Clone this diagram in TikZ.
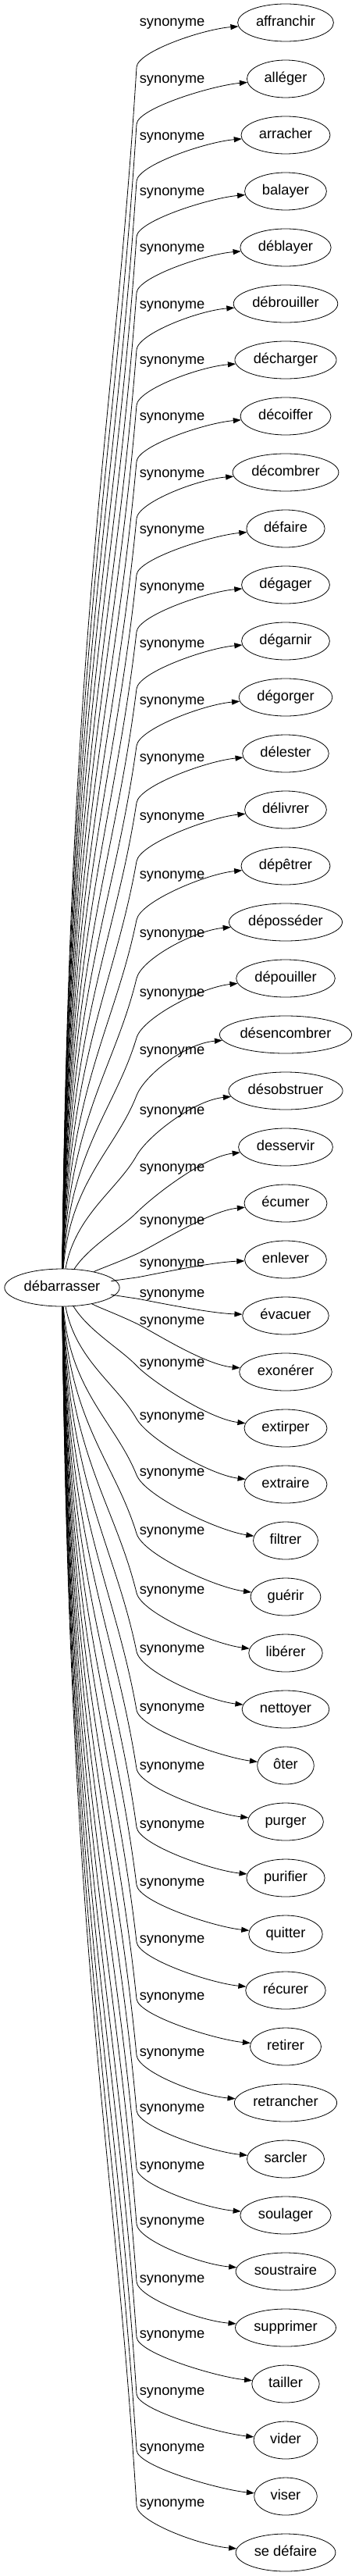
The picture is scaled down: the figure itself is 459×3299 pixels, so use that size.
\documentclass[tikz,border=0pt]{standalone}
\usepackage{fontspec}
\setmainfont{Liberation Sans}
\usetikzlibrary{arrows.meta,calc,shapes.geometric}
\tikzset{
  wordnode/.style={draw, ellipse, line width=0.8pt, inner sep=0pt, minimum height=48pt,
    text height=13.5pt, text depth=3.9pt},
  synlabel/.style={inner sep=0pt, text height=13.5pt, text depth=3.9pt},
  synedge/.style={-{Triangle[length=10pt,width=7pt]}, line width=0.8pt},
}
\begin{document}
\fontsize{18.3}{22}\selectfont
\begin{tikzpicture}[x=1pt, y=-1pt]
  \useasboundingbox (0,0) rectangle (459,3299);
  % --- root word ---
  \pgfmathsetmacro\rootw{1.13*width("débarrasser")+37}
  \node[wordnode, minimum width=\rootw pt] (root) at (79.5,1649) {débarrasser};
  % --- synonyms: word / label y / knee y ---
  \foreach \word/\ly/\ky [count=\idx from 0] in {
      affranchir/29/86, alléger/102/159, arracher/175/232, balayer/246/303,
      déblayer/318/375, débrouiller/391/448, décharger/462/519,
      décoiffer/534/591, décombrer/607/664, défaire/679/736,
      dégager/752/809, dégarnir/825/882, dégorger/898/955,
      délester/971/1028, délivrer/1046/1103, dépêtrer/1121/1178,
      déposséder/1196/1253, dépouiller/1272/1329,
      désencombrer/1346/1403, désobstruer/1423/1480,
      desservir/1496/1553, écumer/1564/1606, enlever/1618/1636,
      évacuer/1657/1663, exonérer/1692/1695, extirper/1746/1749,
      extraire/1814/1817, filtrer/1886/1889, guérir/1961/1964,
      libérer/2037/2040, nettoyer/2112/2115, ôter/2187/2190,
      purger/2262/2265, purifier/2337/2340, quitter/2411/2414,
      récurer/2484/2487, retirer/2557/2560, retrancher/2629/2632,
      sarcler/2700/2703, soulager/2774/2777, soustraire/2845/2848,
      supprimer/2919/2922, tailler/2990/2993, vider/3063/3066,
      viser/3135/3138, se défaire/3206/3209}{
    \pgfmathsetmacro\wordw{1.13*width("\word")+37}
    \pgfmathsetmacro\wy{29+72*\idx}
    \node[wordnode, minimum width=\wordw pt] (w\idx) at (366,\wy) {\word};
    \node[synlabel] (s\idx) at (220.5,\ly) {synonyme};
    % knee of the edge and its tangent
    \pgfmathsetmacro\kdy{\ky-1649}
    \pgfmathsetmacro\kang{atan2(\kdy,96)}
    \pgfmathsetmacro\kf{max(0.1,0.6-abs(\kdy)/400)}
    \pgfmathsetmacro\kla{0.3*max(96,abs(\kdy))}
    \pgfmathsetmacro\klb{0.35*abs(\ky-\wy)}
    \pgfmathsetmacro\kso{0.15*(\ky-\wy)}
    \coordinate (k\idx) at (175,\ky);
    \draw[synedge] (root) .. controls ({79.5+96*\kf},{1649+0.55*\kdy})
        and ($(k\idx)+(\kang+180:\kla)$) .. (k\idx)
      .. controls ($(k\idx)+(\kang:\klb)$) and ($(w\idx.west)+(-45,\kso)$) .. (w\idx);
  }
\end{tikzpicture}
\end{document}
